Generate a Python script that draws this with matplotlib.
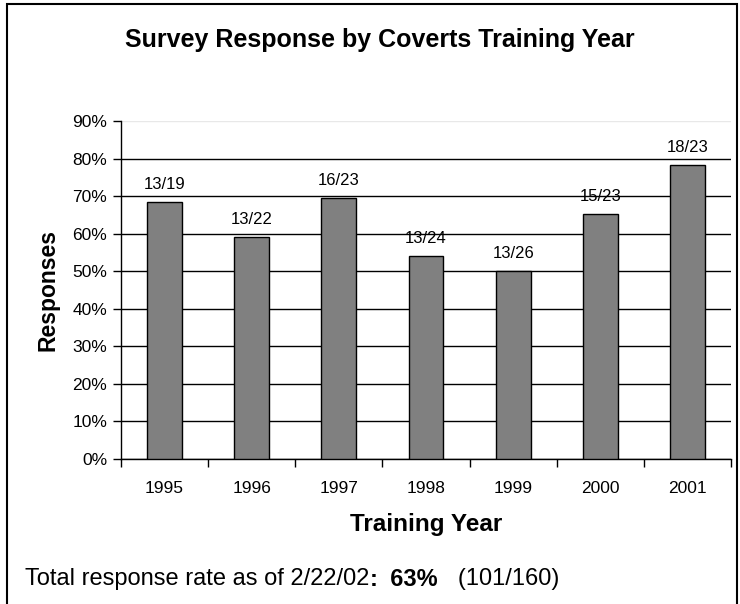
import matplotlib
matplotlib.use("Agg")
import matplotlib.pyplot as plt
from matplotlib.patches import Rectangle
from matplotlib.ticker import PercentFormatter, FixedLocator

plt.rcParams['font.family'] = ['Liberation Sans', 'DejaVu Sans']

years = ["1995", "1996", "1997", "1998", "1999", "2000", "2001"]
responded = [13, 13, 16, 13, 13, 15, 18]
trained = [19, 22, 23, 24, 26, 23, 23]
rates = [r / t for r, t in zip(responded, trained)]
bar_labels = [f"{r}/{t}" for r, t in zip(responded, trained)]
yticks = [0, 0.1, 0.2, 0.3, 0.4, 0.5, 0.6, 0.7, 0.8, 0.9]

fig = plt.figure(figsize=(7.4, 6.04), dpi=100)
ax = fig.add_axes([121/740, 1-459/604, (731-121)/740, (459-121)/604])

x = list(range(len(years)))
bars = ax.bar(x, rates, width=0.40, color='#808080', edgecolor='black', linewidth=1.0, zorder=3)
for xi, v, lab in zip(x, rates, bar_labels):
    ax.annotate(lab, (xi, v), xytext=(0, 7), textcoords='offset points',
                ha='center', va='bottom', fontsize=12, zorder=4)

ax.set_xlim(-0.5, len(years) - 0.5)
ax.set_ylim(0, 0.9)
ax.set_yticks(yticks)
ax.yaxis.set_major_formatter(PercentFormatter(1.0, decimals=0))
ax.set_xticks(x)
ax.set_xticklabels(years)
ax.xaxis.set_minor_locator(FixedLocator([i - 0.5 for i in range(len(years) + 1)]))
ax.tick_params(axis='x', which='major', length=0, pad=16, labelsize=12.5)
ax.tick_params(axis='x', which='minor', length=6, width=1, direction='out')
ax.tick_params(axis='y', length=6, width=1, direction='out', labelsize=12.5, pad=4)

ax.yaxis.grid(True, color='black', linewidth=1, zorder=0)
ax.get_ygridlines()[-1].set_color('#e8e8e8')
for s in ['top', 'right']:
    ax.spines[s].set_visible(False)
for s in ['left', 'bottom']:
    ax.spines[s].set_linewidth(1)

ax.set_ylabel("Responses", fontsize=16.5, fontweight='bold', labelpad=9)
ax.set_xlabel("Training Year", fontsize=17.5, fontweight='bold', labelpad=12)

fig.text(380/740, 1-40/604, "Survey Response by Coverts Training Year",
         ha='center', va='center', fontsize=18, fontweight='bold')

ty = 1 - 579/604
t1 = fig.text(25/740, ty, "Total response rate as of 2/22/02", fontsize=17, va='center')
t2 = fig.text(0, 0, ":", fontsize=17, fontweight='bold', va='center')
t3 = fig.text(0, 0, "  63%", fontsize=17, fontweight='bold', va='center')
t4 = fig.text(0, 0, "   (101/160)", fontsize=17, va='center')
fig.canvas.draw()
prev = t1
for t in (t2, t3, t4):
    bb = prev.get_window_extent()
    t.set_position((bb.x1 / fig.bbox.width, ty))
    fig.canvas.draw()
    prev = t

fig.patches.append(Rectangle((7/740, -0.05), (737-7)/740, 1.05 - 4/604,
                             transform=fig.transFigure, fill=False,
                             edgecolor='black', linewidth=1.5))

fig.savefig("out.png", dpi=100)
